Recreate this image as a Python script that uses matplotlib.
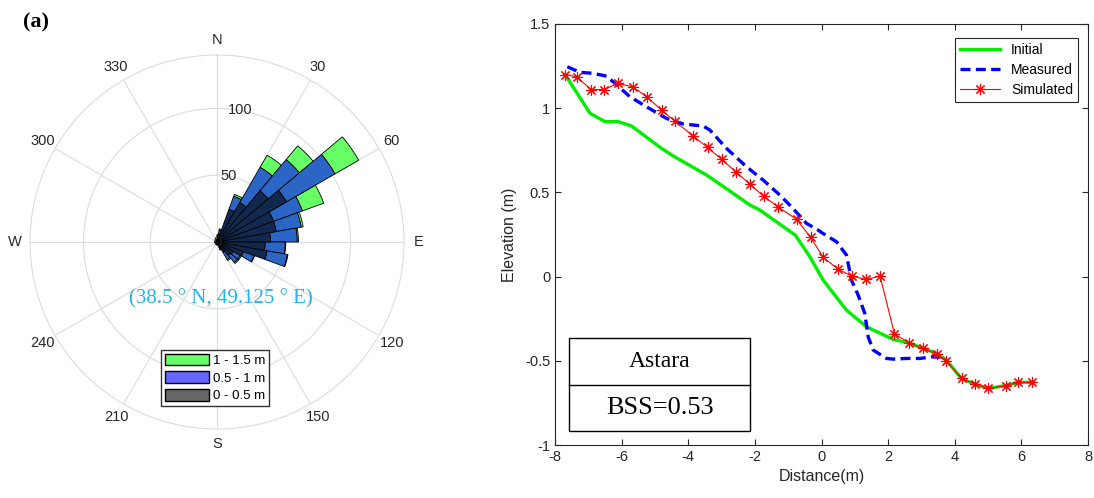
import numpy as np
import matplotlib
matplotlib.use("Agg")
import matplotlib.pyplot as plt
from matplotlib.patches import Patch, Rectangle

plt.rcParams["axes.unicode_minus"] = False

# wave rose: direction bins (deg, centre) and cumulative counts per height class
dir_centers = [5, 15, 25, 35, 45, 55, 65, 75, 85, 95, 105, 115, 125, 135, 145, 155,
               165, 175, 185, 195, 205, 215, 225, 235, 245, 255, 265, 275, 285, 295,
               305, 315, 325, 335, 345, 355]
h_low = [4, 6, 26, 34, 50, 60, 45, 45, 40, 36, 38, 21, 14, 13, 9, 4,
         1.5, 1.5, 1.5, 1.5, 1.5, 1.5, 1.5, 1.5, 1.5, 1.5, 1.5, 1.5, 1.5, 1.5,
         1.5, 1.5, 1.5, 1.5, 1.5, 1.5]
h_mid = [5, 9, 36.5, 64.5, 80.5, 102, 68, 64, 60, 51, 53.5, 29.5, 20, 20, 15, 6,
         1.5, 1.5, 1.5, 1.5, 1.5, 1.5, 1.5, 1.5, 1.5, 1.5, 1.5, 1.5, 1.5, 1.5,
         1.5, 1.5, 1.5, 1.5, 1.5, 1.5]
h_high = [5.5, 10, 38, 75, 94, 122.5, 85, 65.5, 61, 51.5, 54, 30, 21, 21, 16, 6.5,
          1.5, 1.5, 1.5, 1.5, 1.5, 1.5, 1.5, 1.5, 1.5, 1.5, 1.5, 1.5, 1.5, 1.5,
          1.5, 1.5, 1.5, 1.5, 1.5, 1.5]
rose_labels = ["1 - 1.5 m", "0.5 - 1 m", "0 - 0.5 m"]

# beach profiles
x_init = [-7.7, -6.95, -6.5, -6.1, -5.7, -4.8, -4.45, -3.45, -2.65, -2.15, -1.85, -0.78,
          -0.35, 0.05, 0.75, 1.35, 2.15, 2.6, 3.45, 3.75, 4.2, 4.6, 5.0, 5.5, 5.9, 6.3]
y_init = [1.2, 0.97, 0.92, 0.92, 0.894, 0.761, 0.716, 0.603, 0.494, 0.425, 0.395, 0.245,
          0.118, -0.021, -0.199, -0.298, -0.373, -0.393, -0.456, -0.496, -0.605, -0.638,
          -0.664, -0.648, -0.628, -0.628]
x_meas = [-7.63, -7.25, -6.85, -6.45, -6.1, -5.75, -5.25, -4.65, -4.15, -3.55, -3.35, -2.85,
          -2.25, -1.75, -1.25, -0.9, -0.45, -0.1, 0.0, 0.45, 0.75, 0.9, 1.1, 1.3, 1.4,
          1.55, 1.95, 2.15, 2.55, 2.95, 3.35, 3.55]
y_meas = [1.246, 1.213, 1.207, 1.19, 1.13, 1.068, 1.008, 0.939, 0.906, 0.894, 0.87, 0.761,
          0.652, 0.573, 0.484, 0.414, 0.316, 0.276, 0.262, 0.207, 0.128, -0.021, -0.11,
          -0.219, -0.357, -0.436, -0.486, -0.49, -0.486, -0.486, -0.476, -0.48]
x_sim = [-7.7, -7.35, -6.92, -6.52, -6.12, -5.67, -5.25, -4.8, -4.4, -3.85, -3.42, -3.0,
         -2.57, -2.15, -1.73, -1.32, -0.745, -0.33, 0.055, 0.505, 0.91, 1.34, 1.76, 2.19,
         2.63, 3.04, 3.46, 3.74, 4.21, 4.61, 5.01, 5.54, 5.91, 6.31]
y_sim = [1.2, 1.187, 1.111, 1.111, 1.147, 1.127, 1.068, 0.989, 0.923, 0.834, 0.767, 0.696,
         0.622, 0.549, 0.476, 0.416, 0.34, 0.233, 0.114, 0.043, 0.003, -0.017, 0.003, -0.341,
         -0.393, -0.426, -0.46, -0.5, -0.605, -0.638, -0.664, -0.648, -0.628, -0.628]

W, H = 1094, 498
fig = plt.figure(figsize=(W / 100, H / 100), dpi=100)
grey_txt = "#262626"

# ---------------- (a) wave rose ----------------
cx, cy, rpx = 217, 242, 187
axp = fig.add_axes([(cx - rpx) / W, 1 - (cy + rpx) / H, 2 * rpx / W, 2 * rpx / H],
                   projection="polar")
axp.set_theta_zero_location("N")
axp.set_theta_direction(-1)
axp.set_rlim(0, 140)
axp.set_rticks([50, 100])
axp.set_yticklabels([])
axp.set_thetagrids(range(0, 360, 30), labels=[""] * 12)
axp.grid(color="#dcdcdc", lw=0.8)
axp.spines["polar"].set_color("#dcdcdc")
axp.spines["polar"].set_linewidth(0.8)

th = np.deg2rad(dir_centers)
wd = np.deg2rad(10)
low = np.array(h_low)
mid = np.array(h_mid)
high = np.array(h_high)
axp.bar(th, high - mid, width=wd, bottom=mid, color="#66ff66", edgecolor="black", lw=0.6, zorder=3)
axp.bar(th, mid - low, width=wd, bottom=low, color="#2b66c6", edgecolor="black", lw=0.6, zorder=3)
axp.bar(th, low, width=wd, bottom=0, color="#11284f", edgecolor="black", lw=0.6, zorder=3)

compass = {0: "N", 90: "E", 180: "S", 270: "W"}
for a in range(0, 360, 30):
    axp.text(np.deg2rad(a), 151, compass.get(a, str(a)), ha="center", va="center",
             fontsize=10.5, color=grey_txt, family="Liberation Sans", clip_on=False)
for r, lab in [(0, "0"), (50, "50"), (100, "100")]:
    axp.text(np.deg2rad(10), r, lab, ha="center", va="center", fontsize=10.5,
             color=grey_txt, family="Liberation Sans", zorder=4)

fig.text(221 / W, 1 - 299 / H, "(38.5 ° N, 49.125 ° E)", ha="center", va="center",
         fontsize=15, color="#22b4ec", family="Liberation Serif")
fig.text(36 / W, 1 - 22 / H, "(a)", ha="center", va="center", fontsize=16,
         fontweight="bold", family="Liberation Serif")

handles = [Patch(facecolor="#66ff66", edgecolor="black"),
           Patch(facecolor="#6666ff", edgecolor="black"),
           Patch(facecolor="#666666", edgecolor="black")]
leg = fig.legend(handles, rose_labels, loc="center", bbox_to_anchor=(215 / W, 1 - 378 / H),
                 fancybox=False, framealpha=1, edgecolor="#333333", fontsize=9.5,
                 handlelength=3.3, handleheight=0.95, handletextpad=0.3, labelspacing=0.35,
                 borderpad=0.3, borderaxespad=0)
leg.get_frame().set_linewidth(1.0)
for t in leg.get_texts():
    t.set_family("Liberation Sans")

# ---------------- (b) profiles ----------------
ax = fig.add_axes([555 / W, 1 - 445 / H, 533 / W, 421 / H])
ax.plot(x_init, y_init, color="#00ee00", lw=2.4, label="Initial")
ax.plot(x_meas, y_meas, color="#0000ff", lw=2.4, ls=(0, (3, 1.6)), label="Measured")
ax.plot(x_sim, y_sim, color="red", lw=0.8, marker=(8, 2, 0), ms=8, mew=0.8, label="Simulated")
ax.set_xlim(-8, 8)
ax.set_ylim(-1, 1.5)
ax.set_xticks(range(-8, 9, 2))
ax.set_yticks([-1, -0.5, 0, 0.5, 1, 1.5])
ax.set_yticklabels(["-1", "-0.5", "0", "0.5", "1", "1.5"])
ax.tick_params(direction="in", top=True, right=True, labelsize=10.5, colors=grey_txt,
               length=4, width=0.8)
for s in ax.spines.values():
    s.set_color(grey_txt)
    s.set_linewidth(0.8)
for t in ax.get_xticklabels() + ax.get_yticklabels():
    t.set_family("Liberation Sans")
ax.set_xlabel("Distance(m)", fontsize=11.5, color=grey_txt, family="Liberation Sans", labelpad=4)
ax.set_ylabel("Elevation (m)", fontsize=11.5, color=grey_txt, family="Liberation Sans", labelpad=6)

lg = ax.legend(loc="upper right", bbox_to_anchor=(0.981, 0.967), borderaxespad=0,
               fancybox=False, framealpha=1, edgecolor="#262626", fontsize=10,
               handlelength=2.9, labelspacing=0.45, borderpad=0.35)
lg.get_frame().set_linewidth(0.8)
for t in lg.get_texts():
    t.set_family("Liberation Sans")

x0, x1, y0, y1, ym = 0.0263, 0.366, 0.033, 0.254, 0.1425
ax.add_patch(Rectangle((x0, y0), x1 - x0, y1 - y0, transform=ax.transAxes,
                       facecolor="white", edgecolor="black", lw=1.0, zorder=5))
ax.plot([x0, x1], [ym, ym], transform=ax.transAxes, color="black", lw=1.0, zorder=6)
ax.text((x0 + x1) / 2, 0.198, "Astara", transform=ax.transAxes, ha="center", va="center",
        fontsize=17, family="Liberation Serif", zorder=7)
ax.text((x0 + x1) / 2, 0.088, "BSS=0.53", transform=ax.transAxes, ha="center", va="center",
        fontsize=19, family="Liberation Serif", zorder=7)

fig.savefig("out.png", dpi=100)
